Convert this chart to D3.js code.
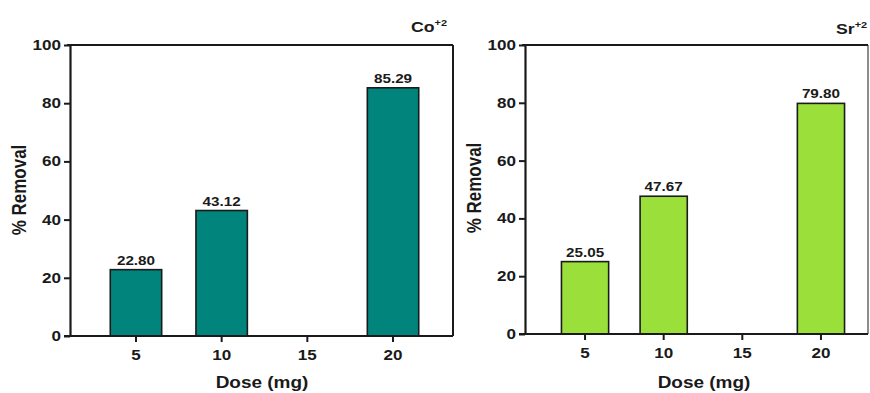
<!DOCTYPE html>
<html><head><meta charset="utf-8">
<script src="https://cdn.jsdelivr.net/npm/d3@7"></script>
<style>body{margin:0;background:#fff}svg{display:block}text{font-family:"Liberation Sans",Arial,sans-serif;font-weight:bold;fill:#1a1a1a}</style>
</head><body><svg id="c" width="870" height="393"></svg>
<script>
const doses = ["5","10","15","20"];
const coValues = [22.80, 43.12, null, 85.29];
const coLabels = ["22.80","43.12","","85.29"];
const srValues = [25.05, 47.67, null, 79.80];
const srLabels = ["25.05","47.67","","79.80"];
const yTicks = [0,20,40,60,80,100];
const xTitle = "Dose (mg)";
const yTitle = "% Removal";

const svg = d3.select("#c");
const SX = 1.22; // horizontal stretch of text seen in the reference

function stretchedText(g, x, y, str, size, anchor, sx) {
  return g.append("text")
    .attr("transform", `translate(${x},${y}) scale(${sx||SX},1)`)
    .attr("text-anchor", anchor).attr("font-size", size).text(str);
}

function panel(cfg) {
  const g = svg.append("g");
  const y = d3.scaleLinear().domain([0,100]).range([cfg.bottom, cfg.top]);
  const x = d3.scaleBand().domain(doses).range([cfg.left + cfg.bandOffset, cfg.left + cfg.bandOffset + cfg.bandWidth]).padding(0.4);

  const data = doses.map((d,i)=>({d, v: cfg.values[i], l: cfg.labels[i]})).filter(o=>o.v!=null);
  g.selectAll("rect.bar").data(data).join("rect")
    .attr("x", o=>x(o.d)).attr("width", x.bandwidth())
    .attr("y", o=>y(o.v)).attr("height", o=>y(0)-y(o.v))
    .attr("fill", cfg.color).attr("stroke", "#1b1b1b").attr("stroke-width", 1.6);
  data.forEach(o=>{
    stretchedText(g, x(o.d)+x.bandwidth()/2, y(o.v)-5, o.l, 12.5, "middle");
  });

  g.append("line").attr("x1", cfg.left-3).attr("x2", cfg.right).attr("y1", cfg.top).attr("y2", cfg.top)
    .attr("stroke","#1a1a1a").attr("stroke-width",2);
  g.append("line").attr("x1", cfg.right).attr("x2", cfg.right).attr("y1", cfg.top).attr("y2", cfg.bottom)
    .attr("stroke","#1a1a1a").attr("stroke-width",cfg.rightW);

  const ya = g.append("g").attr("transform",`translate(${cfg.left},0)`)
    .call(d3.axisLeft(y).tickValues(yTicks).tickSize(6).tickSizeOuter(0).tickFormat(()=>""));
  ya.select(".domain").attr("stroke","#1a1a1a").attr("stroke-width",2.2);
  ya.selectAll(".tick line").attr("stroke","#1a1a1a").attr("stroke-width",2);
  yTicks.forEach(t=>{
    stretchedText(g, cfg.left-9, y(t)+5, String(t), 14, "end");
  });

  const xa = g.append("g").attr("transform",`translate(0,${cfg.bottom})`)
    .call(d3.axisBottom(x).tickSize(6).tickSizeOuter(0).tickFormat(()=>""));
  xa.select(".domain").attr("d", `M${cfg.left-6},0H${cfg.right}`).attr("stroke","#1a1a1a").attr("stroke-width",2.2);
  xa.selectAll(".tick line").attr("stroke","#1a1a1a").attr("stroke-width",2);
  doses.forEach(d=>{
    stretchedText(g, x(d)+x.bandwidth()/2, cfg.bottom+24, d, 14, "middle");
  });

  stretchedText(g, cfg.xTitleX, 388, xTitle, 16.5, "middle", 1.15);
  g.append("text").attr("transform", `translate(${cfg.yTitleX},${cfg.yTitleY}) rotate(-90) scale(1,1.15)`)
    .attr("text-anchor","middle").attr("font-size",17).text(yTitle);

  const t = g.append("text").attr("transform", `translate(${cfg.ionX},${cfg.ionY}) scale(${SX},1)`)
    .attr("font-size",14.5);
  t.append("tspan").text(cfg.ion);
  t.append("tspan").attr("dy",-6).attr("font-size",9).text("+2");
}

panel({left:70, right:453, top:45, bottom:336, bandOffset:6, bandWidth:377,
  values: coValues, labels: coLabels, color:"#00847b", rightW:2,
  xTitleX:262, yTitleX:26, yTitleY:190, ion:"Co", ionX:411, ionY:32});
panel({left:525, right:868, top:45, bottom:334, bandOffset:5, bandWidth:346,
  values: srValues, labels: srLabels, color:"#9be03a", rightW:1,
  xTitleX:704, yTitleX:481, yTitleY:188, ion:"Sr", ionX:836, ionY:34});
</script></body></html>
